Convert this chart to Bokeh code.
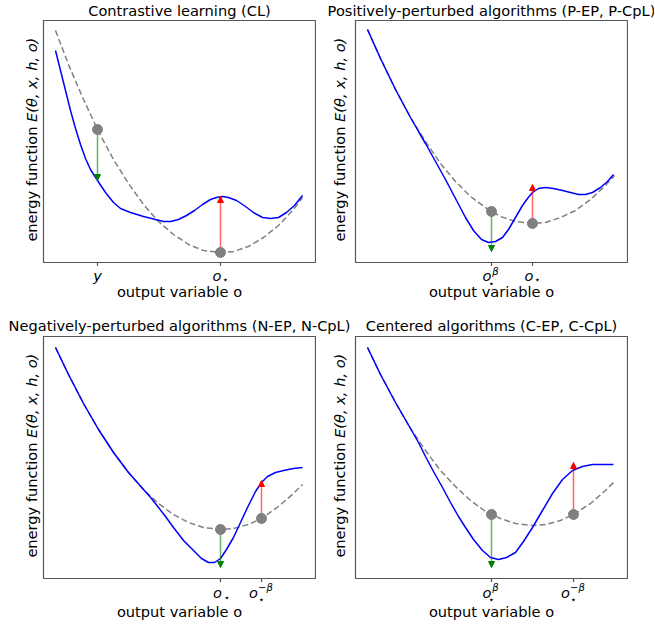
import math
from bokeh.plotting import figure
from bokeh.models import Range1d, Label, Arrow, NormalHead, FixedTicker
from bokeh.layouts import row, column
from bokeh.embed import file_html
from bokeh.resources import INLINE
from bokeh.core.validation import silence
from bokeh.core.validation.warnings import MISSING_RENDERERS

silence(MISSING_RENDERERS, True)

FONT = "DejaVu Sans"
FS = "14.6px"
SMALL = "10px"

titles = ["Contrastive learning (CL)",
          "Positively-perturbed algorithms (P-EP, P-CpL)",
          "Negatively-perturbed algorithms (N-EP, N-CpL)",
          "Centered algorithms (C-EP, C-CpL)"]
xlabel = "output variable o"
ylabel_word = "energy function"
ylabel_math = "E(θ, x, h, o)"

# ---- Panel 1: Contrastive learning ----
cl_o = [12, 17, 22, 27, 32, 37, 42, 47, 54, 62, 70, 77, 87, 100, 112, 120, 127, 135, 143, 151,
        159, 167, 173, 179, 185, 193, 202, 210, 219, 227, 235, 243, 251, 259]
cl_E = [212, 192, 172, 152, 134, 118, 104, 93, 82, 70, 60, 54, 50, 46, 43, 41, 41, 43, 47, 52,
        58, 63, 65, 66, 65, 62, 56, 50, 45, 44, 45, 50, 57, 67]
cl_par_o = [12, 25, 40, 55, 70, 85, 100, 115, 130, 145, 160, 177, 190, 205, 220, 235, 250, 259]
cl_par_E = [232, 198, 163, 131, 103, 79, 58, 41, 28, 18, 12, 10, 11, 16, 25, 37, 53, 65]
cl_dot_o = [54, 177]
cl_dot_E = [133, 10]
cl_arrow_end = [82, 66]
cl_ticks = [54, 177]
cl_base = ["y", "o"]
cl_sup = ["", ""]
cl_sub = ["", "⋆"]

# ---- Panel 2: Positively-perturbed ----
pp_o = [12, 25, 40, 55, 63, 70, 80, 90, 100, 110, 118, 126, 133, 140, 147, 153, 160, 167, 172, 177,
        183, 190, 198, 207, 215, 223, 230, 237, 245, 252, 258]
pp_E = [233, 204, 173, 145, 131, 119, 101, 83, 64, 45, 32, 23, 20, 21, 25, 33, 45, 57, 64, 70,
        74, 75, 74, 72, 70, 68, 68, 70, 75, 81, 88]
pp_par_o = [12, 25, 40, 55, 70, 85, 100, 115, 130, 145, 160, 177, 190, 205, 220, 235, 250, 259]
pp_par_E = [233, 204, 173, 145, 121, 99, 81, 66, 55, 46, 41, 39, 40, 45, 52, 63, 77, 87]
pp_dot_o = [136, 177]
pp_dot_E = [51, 39]
pp_arrow_end = [11, 78]
pp_ticks = [136, 177]
pp_base = ["o", "o"]
pp_sup = ["β", ""]
pp_sub = ["⋆", "⋆"]

# ---- Panel 3: Negatively-perturbed ----
np_o = [12, 25, 40, 55, 70, 85, 100, 108, 115, 122, 130, 140, 150, 158, 165, 171, 177, 183, 190, 197,
        204, 212, 218, 224, 232, 240, 250, 259]
np_E = [231, 204, 175, 149, 126, 106, 89, 80, 71, 62, 51, 38, 28, 20, 16, 16, 20, 29, 41, 56,
        71, 87, 96, 102, 106, 108, 110, 111]
np_par_o = [12, 25, 40, 55, 70, 85, 100, 115, 130, 145, 160, 177, 190, 205, 218, 235, 250, 259]
np_par_E = [231, 204, 175, 149, 126, 106, 89, 75, 64, 56, 51, 49, 50, 54, 60, 72, 85, 94]
np_dot_o = [177, 218]
np_dot_E = [49, 60]
np_arrow_end = [11, 98]
np_ticks = [177, 218]
np_base = ["o", "o"]
np_sup = ["", "−β"]
np_sub = ["⋆", "⋆"]

# ---- Panel 4: Centered ----
cp_o = [12, 25, 40, 55, 63, 70, 78, 87, 95, 103, 110, 118, 127, 135, 143, 151, 160, 168, 177, 187,
        197, 207, 217, 227, 237, 247, 258]
cp_E = [231, 204, 176, 150, 136, 122, 107, 91, 76, 62, 51, 39, 28, 21, 19, 21, 26, 37, 51, 68,
        85, 99, 108, 112, 114, 114, 114]
cp_par_o = [12, 25, 40, 55, 70, 85, 100, 115, 130, 145, 160, 177, 190, 205, 218, 235, 250, 259]
cp_par_E = [231, 204, 176, 150, 128, 108, 92, 78, 67, 60, 55, 53, 54, 58, 64, 75, 88, 97]
cp_dot_o = [136, 218]
cp_dot_E = [64, 64]
cp_arrow_end = [11, 116]
cp_ticks = [136, 218]
cp_base = ["o", "o"]
cp_sup = ["β", "−β"]
cp_sub = ["⋆", "⋆"]

FRAME_W, FRAME_H = 272, 242
EDGE = "#555555"


def txt(f, x, y, text, size=FS, style="normal", align="center", angle=0.0):
    f.add_layout(Label(x=x, y=y, text=text, text_align=align, text_baseline="middle",
                       text_font=FONT, text_font_size=size, text_font_style=style,
                       text_color="black", angle=angle))


def strip_fig(width, height, x_range, y_range, left=0, right=0, top=0, bottom=0):
    f = figure(width=width, height=height, x_range=x_range, y_range=y_range,
               output_backend="svg", toolbar_location=None,
               x_axis_location=None, y_axis_location=None,
               min_border_left=left, min_border_right=right,
               min_border_top=top, min_border_bottom=bottom)
    f.grid.visible = False
    f.outline_line_color = None
    f.background_fill_color = "white"
    f.border_fill_color = "white"
    return f


def panel(o, E, po, pE, dot_o, dot_E, arrow_end, ticks):
    p = figure(width=FRAME_W + 2, height=FRAME_H + 5,
               x_range=Range1d(0, FRAME_W), y_range=Range1d(0, FRAME_H),
               output_backend="svg", toolbar_location=None, y_axis_location=None,
               min_border_left=1, min_border_right=1, min_border_top=1, min_border_bottom=4)
    p.grid.visible = False
    p.outline_line_color = EDGE
    p.outline_line_width = 1.2
    p.background_fill_color = "white"
    p.border_fill_color = "white"
    xa = p.xaxis[0]
    xa.ticker = FixedTicker(ticks=ticks)
    xa.axis_line_color = None
    xa.major_tick_line_color = EDGE
    xa.major_tick_line_width = 1.2
    xa.major_tick_out = 4
    xa.major_tick_in = 0
    xa.minor_tick_out = 0
    xa.minor_tick_in = 0
    xa.major_label_standoff = 0
    xa.major_label_text_font_size = "0px"
    xa.major_label_text_color = None   # tick texts are drawn in the strip below

    p.line(po, pE, line_color="gray", line_width=1.5, line_dash="6 3")
    p.line(o, E, line_color="blue", line_width=1.5)
    p.add_layout(Arrow(end=NormalHead(size=6, fill_color="green", line_color="green"),
                       x_start=dot_o[0], y_start=dot_E[0], x_end=dot_o[0], y_end=arrow_end[0],
                       line_color="green", line_alpha=0.6, line_width=1.5))
    p.add_layout(Arrow(end=NormalHead(size=6, fill_color="red", line_color="red"),
                       x_start=dot_o[1], y_start=dot_E[1], x_end=dot_o[1], y_end=arrow_end[1],
                       line_color="red", line_alpha=0.6, line_width=1.5))
    r = p.scatter(dot_o, dot_E, size=10, color="gray")
    r.level = "overlay"
    return p


# text-centre placement inside the strip below each panel (pixels from strip bottom)
TOP_ROW = dict(base=35, single=(-3.5, 5, 30.7), sup_o={"β": -4.5, "−β": -8}, sup=(4, 39.4),
               sub=(0, 27.3), xl=19.5, height=44)
BOT_ROW = dict(base=32.7, single=(-3, 6.5, 28), sup_o={"β": -4.5, "−β": -8}, sup=(4, 38.3),
               sub=(0, 26), xl=14.5, height=43)


def bottom_strip(p, spec, ticks, base, sup, sub):
    h = spec["height"]
    b = strip_fig(FRAME_W + 2, h, p.x_range, Range1d(0, h), left=1, right=1)
    for t, bs, s, sb in zip(ticks, base, sup, sub):
        if not sb:
            txt(b, t, spec["base"], bs, style="italic")
        elif not s:
            do, ds, ys = spec["single"]
            txt(b, t + do, spec["base"], bs, style="italic")
            txt(b, t + ds, ys, sb, size=SMALL)
        else:
            txt(b, t + spec["sup_o"][s], spec["base"], bs, style="italic")
            txt(b, t + spec["sup"][0], spec["sup"][1], s, size=SMALL, style="italic")
            txt(b, t + spec["sub"][0], spec["sub"][1], sb, size=SMALL)
    txt(b, FRAME_W / 2, spec["xl"], xlabel)
    return b


def left_strip(p, width, x):
    l = strip_fig(width, FRAME_H + 5, Range1d(0, width), p.y_range, top=1, bottom=4)
    junction = 136
    txt(l, x, junction, ylabel_word, align="right", angle=math.pi / 2)
    txt(l, x, junction + 4.6, ylabel_math, style="italic", align="left", angle=math.pi / 2)
    return l


P1 = panel(cl_o, cl_E, cl_par_o, cl_par_E, cl_dot_o, cl_dot_E, cl_arrow_end, cl_ticks)
P2 = panel(pp_o, pp_E, pp_par_o, pp_par_E, pp_dot_o, pp_dot_E, pp_arrow_end, pp_ticks)
P3 = panel(np_o, np_E, np_par_o, np_par_E, np_dot_o, np_dot_E, np_arrow_end, np_ticks)
P4 = panel(cp_o, cp_E, cp_par_o, cp_par_E, cp_dot_o, cp_dot_E, cp_arrow_end, cp_ticks)

B1 = bottom_strip(P1, TOP_ROW, cl_ticks, cl_base, cl_sup, cl_sub)
B2 = bottom_strip(P2, TOP_ROW, pp_ticks, pp_base, pp_sup, pp_sub)
B3 = bottom_strip(P3, BOT_ROW, np_ticks, np_base, np_sup, np_sub)
B4 = bottom_strip(P4, BOT_ROW, cp_ticks, cp_base, cp_sup, cp_sub)

L1 = left_strip(P1, 42, 31)
L2 = left_strip(P2, 38, 23)
L3 = left_strip(P3, 42, 31)
L4 = left_strip(P4, 38, 23)

T1 = strip_fig(654, 19, Range1d(0, 654), Range1d(0, 19))
txt(T1, 179, 9.1, titles[0])
txt(T1, 491, 9.1, titles[1])
T2 = strip_fig(654, 25, Range1d(0, 654), Range1d(0, 25))
txt(T2, 179, 9.8, titles[2])
txt(T2, 491, 9.8, titles[3])

root = column(T1,
              row(L1, column(P1, B1), L2, column(P2, B2)),
              T2,
              row(L3, column(P3, B3), L4, column(P4, B4)))

open("out.html", "w").write(file_html(root, INLINE))
